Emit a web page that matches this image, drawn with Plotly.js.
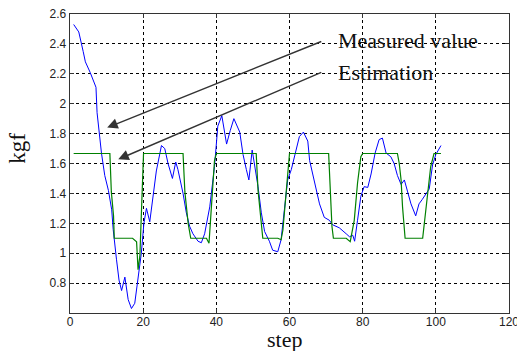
<!DOCTYPE html>
<html>
<head>
<meta charset="utf-8">
<script src="https://cdn.plot.ly/plotly-3.0.1.min.js"></script>
<style>html,body{margin:0;padding:0;background:#fff;}#chart{width:517px;height:351px;}</style>
</head>
<body>
<div id="chart"></div>
<script>
// Measured value (blue)
const measuredStep = [1.0,2.4,3.6,4.2,5.5,7.1,7.4,8.0,8.6,9.5,10.5,11.4,11.8,12.7,13.4,14.1,15.0,15.9,16.8,17.7,18.6,19.5,20.2,20.9,21.8,22.7,23.6,25.0,25.9,26.8,28.0,28.9,29.5,30.9,31.8,32.7,33.6,35.0,35.9,36.8,38.2,39.5,40.4,41.5,42.8,43.8,44.8,46.4,47.3,48.2,48.9,49.8,50.4,51.4,52.3,53.2,54.5,55.4,56.8,57.7,58.6,59.5,60.5,61.8,62.7,63.8,65.0,65.5,66.8,68.2,69.5,70.9,71.8,73.6,75.5,76.4,77.3,77.8,78.6,79.5,80.4,81.4,82.3,83.4,84.5,85.4,86.4,87.7,88.6,89.5,90.5,91.4,92.3,93.2,94.5,95.4,96.3,97.3,98.2,99.1,100.0,101.4];
const measuredKgf = [2.53,2.48,2.35,2.28,2.21,2.11,1.94,1.80,1.67,1.52,1.42,1.29,1.16,0.96,0.82,0.75,0.84,0.69,0.63,0.665,0.82,1.0,1.2,1.3,1.21,1.38,1.55,1.72,1.70,1.60,1.50,1.61,1.56,1.40,1.27,1.18,1.13,1.08,1.07,1.13,1.31,1.58,1.85,1.92,1.73,1.82,1.90,1.81,1.66,1.56,1.49,1.69,1.60,1.445,1.27,1.145,1.08,1.02,1.01,1.09,1.29,1.49,1.56,1.69,1.78,1.81,1.75,1.62,1.47,1.33,1.24,1.22,1.19,1.17,1.13,1.11,1.12,1.08,1.22,1.38,1.445,1.44,1.53,1.67,1.76,1.77,1.67,1.645,1.60,1.52,1.46,1.49,1.41,1.33,1.25,1.33,1.36,1.40,1.43,1.59,1.66,1.72];

// Estimation (green)
const estStep = [1.0,10.9,11.3,11.9,12.1,17.1,18.2,18.6,19.1,19.5,19.9,20.1,30.9,31.4,32.3,33.0,37.3,38.0,38.6,39.5,40.0,50.9,51.4,52.3,52.7,56.8,57.7,58.2,59.1,59.8,60.0,70.7,71.1,71.6,72.0,75.5,76.6,77.7,78.6,79.5,80.0,89.5,90.0,90.5,90.9,91.4,91.6,96.4,97.3,98.6,99.5,101.4];
const estKgf = [1.667,1.667,1.41,1.25,1.10,1.10,1.077,0.89,0.98,1.29,1.56,1.667,1.667,1.41,1.2,1.10,1.10,1.066,1.29,1.62,1.667,1.667,1.42,1.2,1.10,1.10,1.09,1.155,1.40,1.58,1.667,1.667,1.47,1.18,1.10,1.10,1.077,1.22,1.47,1.645,1.667,1.667,1.60,1.49,1.31,1.19,1.10,1.10,1.29,1.58,1.667,1.667];

const xTicks = [0,20,40,60,80,100,120];
const yTicks = [0.8,1,1.2,1.4,1.6,1.8,2,2.2,2.4,2.6];
const yTickText = ['0.8','1','1.2','1.4','1.6','1.8','2','2.2','2.4','2.6'];

const labels = ['Measured value','Estimation'];
const labelPos = [[72.6,2.426],[72.6,2.212]];
const arrowTail = [[69.1,2.42],[69.1,2.214]];
const arrowHead = [[10.17,1.84],[13.2,1.628]];

const serif = 'Liberation Serif, Times New Roman, serif';

const traces = [
  {x: measuredStep, y: measuredKgf, mode:'lines', line:{color:'#0000ff', width:1}, name:labels[0], showlegend:false},
  {x: estStep, y: estKgf, mode:'lines', line:{color:'#008000', width:1.2}, name:labels[1], showlegend:false}
];

const annotations = [];
for (let i=0;i<2;i++){
  annotations.push({x:arrowHead[i][0], y:arrowHead[i][1], ax:arrowTail[i][0], ay:arrowTail[i][1],
    xref:'x', yref:'y', axref:'x', ayref:'y', text:'', showarrow:true,
    arrowhead:2, arrowsize:1.5, arrowwidth:1.4, arrowcolor:'#333'});
  annotations.push({x:labelPos[i][0], y:labelPos[i][1], xref:'x', yref:'y', text:labels[i],
    showarrow:false, xanchor:'left', yanchor:'middle', font:{family:serif, size:22, color:'#111'}});
}
annotations.push({x:0.5, y:-0.09, xref:'paper', yref:'paper', text:'step', showarrow:false,
  xanchor:'center', yanchor:'middle', xshift:-5, font:{family:serif, size:22, color:'#111'}});
annotations.push({x:-0.12, y:0.55, xref:'paper', yref:'paper', text:'kgf', showarrow:false, textangle:-90,
  xanchor:'center', yanchor:'middle', font:{family:serif, size:23, color:'#111'}});

const axisCommon = {
  showline:true, mirror:'ticks', linecolor:'#333', linewidth:1.3,
  ticks:'inside', ticklen:4, tickcolor:'#333',
  showgrid:true, gridcolor:'#000', gridwidth:1, griddash:'3px,3px',
  zeroline:false, tickfont:{family:'Liberation Sans, Arial, sans-serif', size:12, color:'#222'}
};

const layout = {
  width:517, height:351,
  margin:{l:70, r:8, t:14, b:38},
  paper_bgcolor:'#fff', plot_bgcolor:'#fff',
  xaxis: Object.assign({}, axisCommon, {range:[0,120], tickvals:xTicks, ticklabelstandoff:-3, ticklabeloverflow:'allow', automargin:false}),
  yaxis: Object.assign({}, axisCommon, {range:[0.6,2.6], tickvals:yTicks, ticktext:yTickText, automargin:false}),
  annotations: annotations
};

Plotly.newPlot('chart', traces, layout, {displayModeBar:false, staticPlot:true});
</script>
</body>
</html>
